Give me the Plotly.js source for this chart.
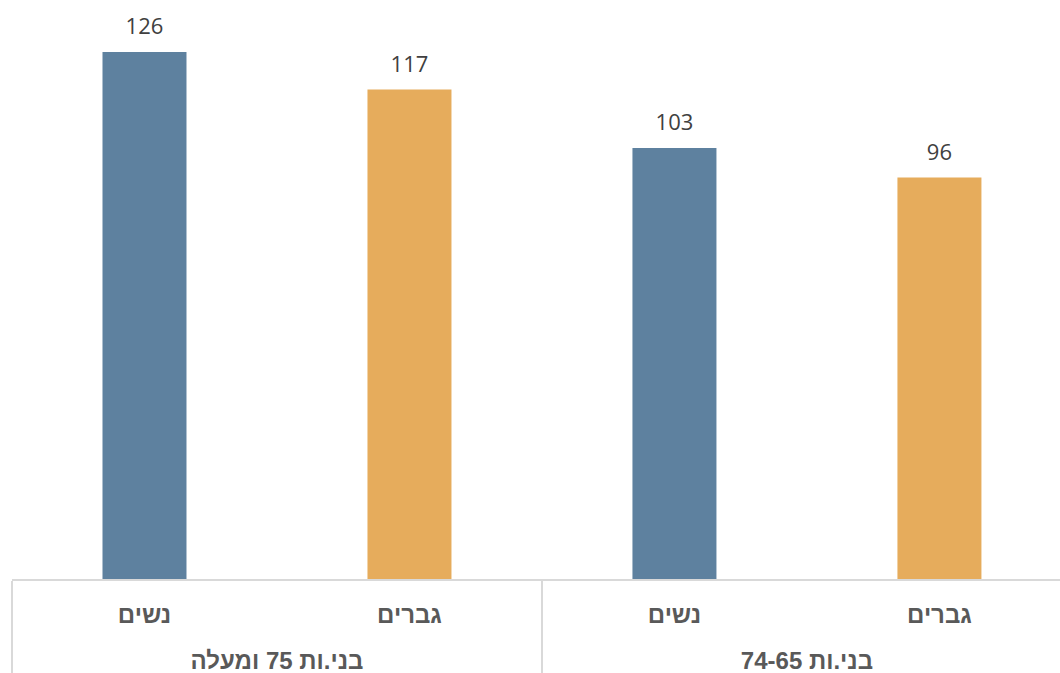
<!DOCTYPE html>
<html>
<head>
<meta charset="utf-8">
<script src="https://cdn.plot.ly/plotly-3.0.1.min.js"></script>
<style>
  html, body { margin: 0; padding: 0; background: #ffffff; overflow: hidden; }
  #chart { width: 1060px; height: 673px; }
</style>
</head>
<body>
<div id="chart"></div>
<script>
// Age groups (outer axis level) and sex (inner axis level), left to right
const ageGroups = ['בני.ות 75 ומעלה', 'בני.ות 75 ומעלה', 'בני.ות 74-65', 'בני.ות 74-65'];
const sexLabels = ['נשים', 'גברים', 'נשים', 'גברים'];
const values = [126, 117, 103, 96];
const barColors = ['#5E819F', '#E6AC5C', '#5E819F', '#E6AC5C'];

// Axis labels are drawn at 24px inside a smaller base font; the tiny trailing lines
// under each inner label set the spacing between the two label rows
const big = s => '<span style="font-size:24px">' + s + '</span>';
const spacer = '<br><span style="font-size:1px">&nbsp;</span>';
const outerTicks = ageGroups.map(big);
const innerTicks = sexLabels.map(s => big(s) + spacer + spacer);
const xCats = [outerTicks, innerTicks];

const bars = {
  type: 'bar',
  x: xCats,
  y: values,
  marker: { color: barColors, line: { width: 0 } },
  hoverinfo: 'skip',
  showlegend: false
};

// Value labels sit above each bar
const labels = {
  type: 'scatter',
  mode: 'markers+text',
  x: xCats,
  y: values,
  text: values.map(String),
  textposition: 'top center',
  textfont: { family: '"Open Sans", sans-serif', size: 22, color: '#404040' },
  marker: { size: 18, opacity: 0 },
  hoverinfo: 'skip',
  showlegend: false,
  cliponaxis: false
};

const layout = {
  width: 1060,
  height: 673,
  margin: { l: 12, r: 0, t: 0, b: 94, pad: 0 },
  paper_bgcolor: '#ffffff',
  plot_bgcolor: '#ffffff',
  bargap: 0.683,
  showlegend: false,
  xaxis: {
    type: 'multicategory',
    range: [-0.5, 3.455],
    showline: true,
    linecolor: '#D9D9D9',
    linewidth: 1.5,
    showgrid: false,
    zeroline: false,
    ticks: '',
    ticklabelstandoff: 22,
    showdividers: true,
    dividercolor: '#D9D9D9',
    dividerwidth: 1.5,
    tickfont: { family: '"Liberation Sans", Arial, sans-serif', size: 17, color: '#595959', weight: 'bold' },
    fixedrange: true
  },
  yaxis: {
    range: [0, 138.4],
    visible: false,
    showgrid: false,
    zeroline: false,
    fixedrange: true
  },
  font: { family: '"Liberation Sans", Arial, sans-serif' }
};

Plotly.newPlot('chart', [bars, labels], layout, { displayModeBar: false, staticPlot: true });
</script>
</body>
</html>
